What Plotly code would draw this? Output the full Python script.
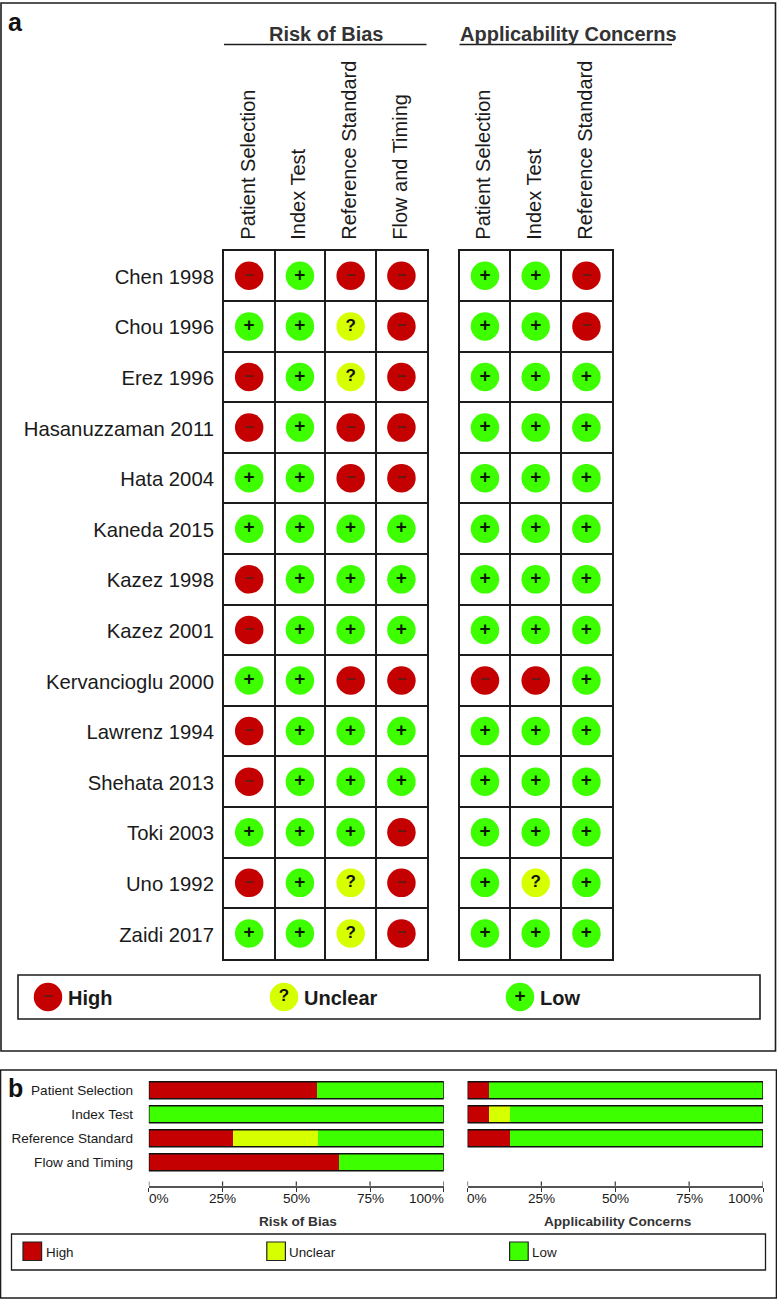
import plotly.graph_objects as go

W, H = 777, 1299

studies = ["Chen 1998", "Chou 1996", "Erez 1996", "Hasanuzzaman 2011", "Hata 2004", "Kaneda 2015",
           "Kazez 1998", "Kazez 2001", "Kervancioglu 2000", "Lawrenz 1994", "Shehata 2013",
           "Toki 2003", "Uno 1992", "Zaidi 2017"]
rob_domains = ["Patient Selection", "Index Test", "Reference Standard", "Flow and Timing"]
app_domains = ["Patient Selection", "Index Test", "Reference Standard"]

rob_patient = list("HLHHLLHHLHHLHL")
rob_index = list("LLLLLLLLLLLLLL")
rob_reference = list("HUUHHLLLHLLLUU")
rob_flow = list("HHHHHLLLHLLHHH")
app_patient = list("LLLLLLLLHLLLLL")
app_index = list("LLLLLLLLHLLLUL")
app_reference = list("HHLLLLLLLLLLLL")

bar_high_rob = [57.1, 0, 28.6, 64.3]
bar_unclear_rob = [0, 0, 28.6, 0]
bar_low_rob = [42.9, 100, 42.8, 35.7]
bar_high_app = [7.1, 7.1, 14.3]
bar_unclear_app = [0, 7.1, 0]
bar_low_app = [92.9, 85.8, 85.7]
pct_ticks = [0, 25, 50, 75, 100]
pct_labels = ["0%", "25%", "50%", "75%", "100%"]

RED, YEL, GRN = "#C40000", "#D6FF00", "#3EFF00"
INK = "#1c1c1c"
FONT = "Liberation Sans, Arial, sans-serif"
STYLE = {"H": (RED, "<b>\u2013</b>", "#5e1c16", 16), "U": (YEL, "<b>?</b>", "#111111", 17), "L": (GRN, "<b>+</b>", "#0a1a00", 19)}
NAMES = {"H": "High", "U": "Unclear", "L": "Low"}


def fx(p):
    return p / W


def fy(p):
    return 1 - p / H


fig = go.Figure()


def add_matrix(cols, xa, ya):
    for code in "HUL":
        xs, ys = [], []
        for c, col in enumerate(cols):
            for r, v in enumerate(col):
                if v == code:
                    xs.append(c)
                    ys.append(r)
        color, txt, tc, ts = STYLE[code]
        fig.add_trace(go.Scatter(x=xs, y=ys, xaxis=xa, yaxis=ya, mode="markers+text", name=NAMES[code],
                                 marker=dict(size=28.5, color=color, line=dict(width=0)),
                                 text=[txt] * len(xs), textposition="middle center",
                                 textfont=dict(color=tc, size=ts, family=FONT),
                                 showlegend=False, hoverinfo="skip", cliponaxis=False))


add_matrix([rob_patient, rob_index, rob_reference, rob_flow], "x", "y")
add_matrix([app_patient, app_index, app_reference], "x2", "y2")


def add_bars(high, unclear, low, cats, xa, ya):
    for vals, color, nm in ((high, RED, "High"), (unclear, YEL, "Unclear"), (low, GRN, "Low")):
        fig.add_trace(go.Bar(y=list(range(len(cats))), x=vals, xaxis=xa, yaxis=ya, orientation="h", name=nm,
                             width=17 / 24, marker=dict(color=color, line=dict(width=0)),
                             showlegend=False, hoverinfo="skip"))


add_bars(bar_high_rob, bar_unclear_rob, bar_low_rob, rob_domains, "x3", "y3")
add_bars(bar_high_app, bar_unclear_app, bar_low_app, app_domains, "x4", "y4")

# legend keys of panel a
for code, kx in (("H", 48), ("U", 284), ("L", 520)):
    color, txt, tc, ts = STYLE[code]
    fig.add_trace(go.Scatter(x=[kx], y=[997], xaxis="x5", yaxis="y5", mode="markers+text", name=NAMES[code],
                             marker=dict(size=28.5, color=color, line=dict(width=0)), text=[txt],
                             textposition="middle center", textfont=dict(color=tc, size=ts, family=FONT),
                             showlegend=False, hoverinfo="skip"))


def grid_axis(lo, hi, n, **kw):
    return dict(domain=[lo, hi], showline=True, mirror=True, linecolor=INK, linewidth=1.6,
                zeroline=False, showgrid=False, tickmode="array", automargin=False,
                minor=dict(tick0=-0.5, dtick=1, showgrid=True, gridcolor=INK, gridwidth=1.5, ticks=""),
                ticks="outside", tickcolor="rgba(0,0,0,0)", tickvals=list(range(n)), **kw)


col_font = dict(family=FONT, size=20, color="#1a1a1a")
row_font = dict(family=FONT, size=20.3, color="#1a1a1a")
fig.update_layout(
    template="none",
    width=W, height=H, margin=dict(l=0, r=0, t=0, b=0, pad=0), autosize=False,
    paper_bgcolor="white", plot_bgcolor="rgba(0,0,0,0)", barmode="stack", bargap=0, showlegend=False,
    font=dict(family=FONT, color="#1a1a1a"),
    xaxis=grid_axis(fx(223.8), fx(426.8), 4, range=[-0.5, 3.5], anchor="y", side="top", ticklen=5, tickangle=-90,
                    ticktext=rob_domains, tickfont=col_font, ticklabelshift=-1),
    yaxis=grid_axis(fy(958.7), fy(250.5), 14, range=[13.5, -0.5], anchor="x", ticklen=4, ticktext=studies,
                    tickfont=row_font, ticklabelshift=-1),
    xaxis2=grid_axis(fx(459.6), fx(611.8), 3, range=[-0.5, 2.5], anchor="y2", side="top", ticklen=5, tickangle=-90,
                     ticktext=app_domains, tickfont=col_font, ticklabelshift=-1),
    yaxis2=grid_axis(fy(958.7), fy(250.5), 14, range=[13.5, -0.5], anchor="x2", ticklen=0, showticklabels=False),
    xaxis5=dict(domain=[fx(18), fx(760)], range=[18, 760], visible=False, anchor="y5", fixedrange=True),
    yaxis5=dict(domain=[fy(1019), fy(975)], range=[1019, 975], visible=False, anchor="x5", fixedrange=True),
)

tick_font = dict(family=FONT, size=13.6, color="#1a1a1a")


def pct_axis(lo, hi, anchor):
    return dict(domain=[fx(lo), fx(hi)], range=[0, 100], anchor=anchor, tickmode="array", tickvals=pct_ticks,
                showticklabels=False, ticks="outside", ticklen=4, tickcolor="#333", tickwidth=1.2, showline=True,
                linecolor="#555", linewidth=1.6, showgrid=False, zeroline=False, automargin=False)


def cat_axis(anchor, labels, show):
    return dict(domain=[fy(1185.7), fy(1078.2)], range=[3.979, -0.5], anchor=anchor, tickmode="array",
                tickvals=list(range(len(labels))), ticktext=labels, showticklabels=show, ticks="outside" if show else "",
                ticklen=12, tickcolor="rgba(0,0,0,0)", showline=False, showgrid=False, zeroline=False, tickfont=tick_font,
                automargin=False)


fig.update_layout(xaxis3=pct_axis(148.8, 443.8, "y3"), yaxis3=cat_axis("x3", rob_domains, True),
                  xaxis4=pct_axis(467.5, 763, "y4"), yaxis4=cat_axis("x4", app_domains, False))

shapes, notes = [], []


def rect(x0, y0, x1, y1, color=INK, width=1.6, fill=None):
    shapes.append(dict(type="rect", xref="paper", yref="paper", x0=fx(x0), x1=fx(x1), y0=fy(y0), y1=fy(y1),
                       line=dict(color=color, width=width), fillcolor=fill, layer="above"))


def line(x0, y0, x1, y1, width=1.6):
    shapes.append(dict(type="line", xref="paper", yref="paper", x0=fx(x0), x1=fx(x1), y0=fy(y0), y1=fy(y1),
                       line=dict(color=INK, width=width)))


def note(text, x, y, size, bold=False, anchor="left", color="#1a1a1a"):
    notes.append(dict(text=f"<b>{text}</b>" if bold else text, xref="paper", yref="paper", x=fx(x), y=fy(y),
                      xanchor=anchor, yanchor="middle", showarrow=False,
                      font=dict(family=FONT, size=size, color=color)))


rect(1, 3, 775.5, 1051)
rect(0.5, 1070, 776.5, 1298)
rect(18, 975, 760, 1019)
rect(11.5, 1234, 765.5, 1270, width=1.3)
line(224, 44.5, 426.5, 44.5)
line(459.5, 44.5, 672, 44.5)

# bar outlines, upward tick halves and percent labels
for xa, ya, cats in (("x3", "y3", rob_domains), ("x4", "y4", app_domains)):
    for i in range(len(cats)):
        shapes.append(dict(type="rect", xref=xa, yref=ya, x0=0, x1=100, y0=i - 17 / 48, y1=i + 17 / 48,
                           line=dict(color="#111", width=1.4), layer="above"))
    for t, lab in zip(pct_ticks, pct_labels):
        shapes.append(dict(type="line", xref=xa, x0=t, x1=t, yref="paper", y0=fy(1185.7), y1=fy(1181.5),
                           line=dict(color="#333", width=1.2)))
        anchor = "left" if t == pct_ticks[0] else "right" if t == pct_ticks[-1] else "center"
        shift = {"left": -2, "right": 2, "center": 0}[anchor]
        notes.append(dict(text=lab, xref=xa, yref="paper", x=t, y=fy(1198.7), xanchor=anchor, yanchor="middle",
                          showarrow=False, xshift=shift, font=tick_font))

# key swatches of panel b
for sx, color in ((23, RED), (266.8, YEL), (509.6, GRN)):
    rect(sx, 1242, sx + 18.6, 1260.5, color="#222", width=1.2, fill=color)

note("a", 6, 22, 25, True, color="#111")
note("b", 6, 1087.5, 25, True, color="#111")
note("Risk of Bias", 325.5, 34, 20, True, "center", "#333")
note("Applicability Concerns", 568, 34, 20, True, "center", "#333")
note("High", 65.5, 998, 20, True)
note("Unclear", 301.8, 998, 20, True)
note("Low", 538, 998, 20, True)
note("Risk of Bias", 297.5, 1221, 13.6, True, "center", "#333")
note("Applicability Concerns", 617, 1221, 13.6, True, "center", "#333")
note("High", 43.6, 1252, 13.4)
note("Unclear", 287, 1252, 13.4)
note("Low", 530, 1252, 13.4)

fig.update_layout(shapes=shapes, annotations=notes)
fig.write_html("out.html", config=dict(displayModeBar=False),
               post_script="document.body.style.margin='0';document.body.style.overflow='hidden';")
